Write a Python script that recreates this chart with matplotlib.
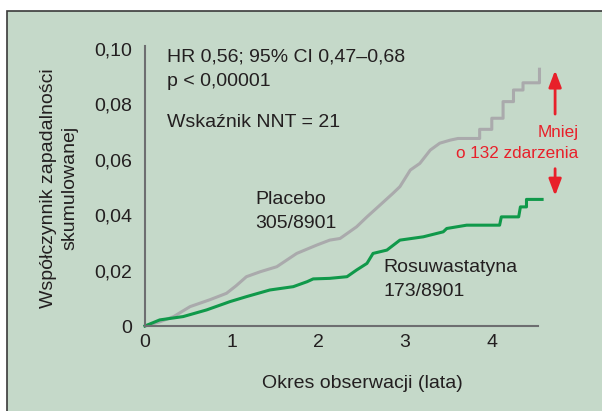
import matplotlib.pyplot as plt
from matplotlib.patches import Rectangle

plt.rcParams['font.family'] = ['Liberation Sans', 'DejaVu Sans']

# Kaplan-Meier style cumulative incidence
placebo_t = [0, 0.17, 0.33, 0.52, 0.75, 0.94, 1.05, 1.17, 1.33, 1.52, 1.75, 1.98, 2.13, 2.25,
             2.44, 2.56, 2.67, 2.86, 2.94, 3.06, 3.17, 3.29, 3.40, 3.52, 3.61, 3.86, 3.86,
             4.00, 4.00, 4.13, 4.13, 4.25, 4.25, 4.36, 4.36, 4.55, 4.55]
placebo_y = [0, 0.0015, 0.0034, 0.0070, 0.0095, 0.0118, 0.0145, 0.0178, 0.0196, 0.0214, 0.0262,
             0.0292, 0.0310, 0.0316, 0.0358, 0.0394, 0.0425, 0.0479, 0.0503, 0.0563, 0.0587,
             0.0635, 0.0660, 0.0671, 0.0677, 0.0677, 0.0710, 0.0710, 0.0750, 0.0750, 0.0810,
             0.0810, 0.0852, 0.0852, 0.0878, 0.0878, 0.0927]

rosu_t = [0, 0.17, 0.44, 0.71, 0.98, 1.17, 1.44, 1.71, 1.87, 1.94, 2.13, 2.33, 2.44, 2.56,
          2.63, 2.79, 2.94, 3.21, 3.44, 3.48, 3.71, 4.09, 4.11, 4.31, 4.33, 4.40, 4.40, 4.58]
rosu_y = [0, 0.0022, 0.0034, 0.0058, 0.0088, 0.0106, 0.0130, 0.0142, 0.0160, 0.0170, 0.0172,
          0.0178, 0.0202, 0.0226, 0.0262, 0.0274, 0.0310, 0.0322, 0.0340, 0.0352, 0.0364,
          0.0364, 0.0394, 0.0394, 0.0430, 0.0430, 0.0457, 0.0457]

yticks = [0, 0.02, 0.04, 0.06, 0.08, 0.10]
ytick_labels = ['0', '0,02', '0,04', '0,06', '0,08', '0,10']
xticks = [0, 1, 2, 3, 4]

bg = '#c5d9c9'
grey = '#aaaaac'
green = '#10994a'
red = '#e8202a'
txt = '#231f20'
fs = 14

fig = plt.figure(figsize=(6.02, 4.11), dpi=100)
fig.patch.set_facecolor('white')
panel = Rectangle((7 / 602, -0.05), 1.2, 1 - 11 / 411 + 0.05, transform=fig.transFigure,
                  facecolor=bg, edgecolor='#3a3a3a', linewidth=1.2, zorder=-10)
fig.add_artist(panel)

ax = fig.add_axes([145 / 602, 85 / 411, 4.7 * 86.7 / 602, 0.105 * 2770 / 411])
ax.patch.set_alpha(0)
ax.plot(placebo_t, placebo_y, color=grey, lw=2.2, clip_on=False)
ax.plot(rosu_t, rosu_y, color=green, lw=2.2, clip_on=False)

ax.set_xlim(0, 4.7)
ax.set_ylim(0, 0.105)
ax.set_xticks(xticks)
ax.set_xticklabels([str(t) for t in xticks])
ax.set_yticks(yticks)
ax.set_yticklabels(ytick_labels)
ax.tick_params(length=0, labelsize=fs, colors=txt)
ax.tick_params(axis='y', pad=9)
ax.tick_params(axis='x', pad=6)
for s in ['top', 'right']:
    ax.spines[s].set_visible(False)
for s in ['left', 'bottom']:
    ax.spines[s].set_color('#6d6e70')
    ax.spines[s].set_linewidth(1.5)
ax.spines['bottom'].set_bounds(0, 4.53)
ax.spines['left'].set_bounds(0, 0.1012)

fig.text(362 / 602, 1 - 383 / 411, 'Okres obserwacji (lata)', fontsize=fs, color=txt,
         ha='center', va='center')
fig.text(59 / 602, 1 - 188 / 411, 'Współczynnik zapadalności\nskumulowanej', fontsize=fs,
         color=txt, rotation=90, ha='center', va='center', multialignment='center',
         linespacing=1.35)

ax.text(0.25, 0.0971, 'HR 0,56; 95% CI 0,47–0,68', fontsize=fs, color=txt, va='center')
ax.text(0.25, 0.0881, 'p < 0,00001', fontsize=fs, color=txt, va='center')
ax.text(0.25, 0.0736, 'Wskaźnik NNT = 21', fontsize=fs, color=txt, va='center')
ax.text(1.27, 0.0457, 'Placebo', fontsize=fs, color=txt, va='center')
ax.text(1.27, 0.0370, '305/8901', fontsize=fs, color=txt, va='center')
ax.text(2.75, 0.0210, 'Rosuwastatyna', fontsize=fs, color=txt, va='center')
ax.text(2.75, 0.0124, '173/8901', fontsize=fs, color=txt, va='center')
ax.text(5.0, 0.0697, 'Mniej', fontsize=12.3, color=red, va='center', ha='right', clip_on=False)
ax.text(5.0, 0.0621, 'o 132 zdarzenia', fontsize=12.3, color=red, va='center', ha='right',
        clip_on=False)

ax.annotate('', xy=(4.73, 0.0933), xytext=(4.73, 0.0755), annotation_clip=False,
            arrowprops=dict(arrowstyle='-|>,head_width=0.38,head_length=1.0', color=red, lw=2))
ax.annotate('', xy=(4.73, 0.0460), xytext=(4.73, 0.0578), annotation_clip=False,
            arrowprops=dict(arrowstyle='-|>,head_width=0.38,head_length=1.0', color=red, lw=2))

fig.savefig('out.png', dpi=100, facecolor=fig.get_facecolor())
